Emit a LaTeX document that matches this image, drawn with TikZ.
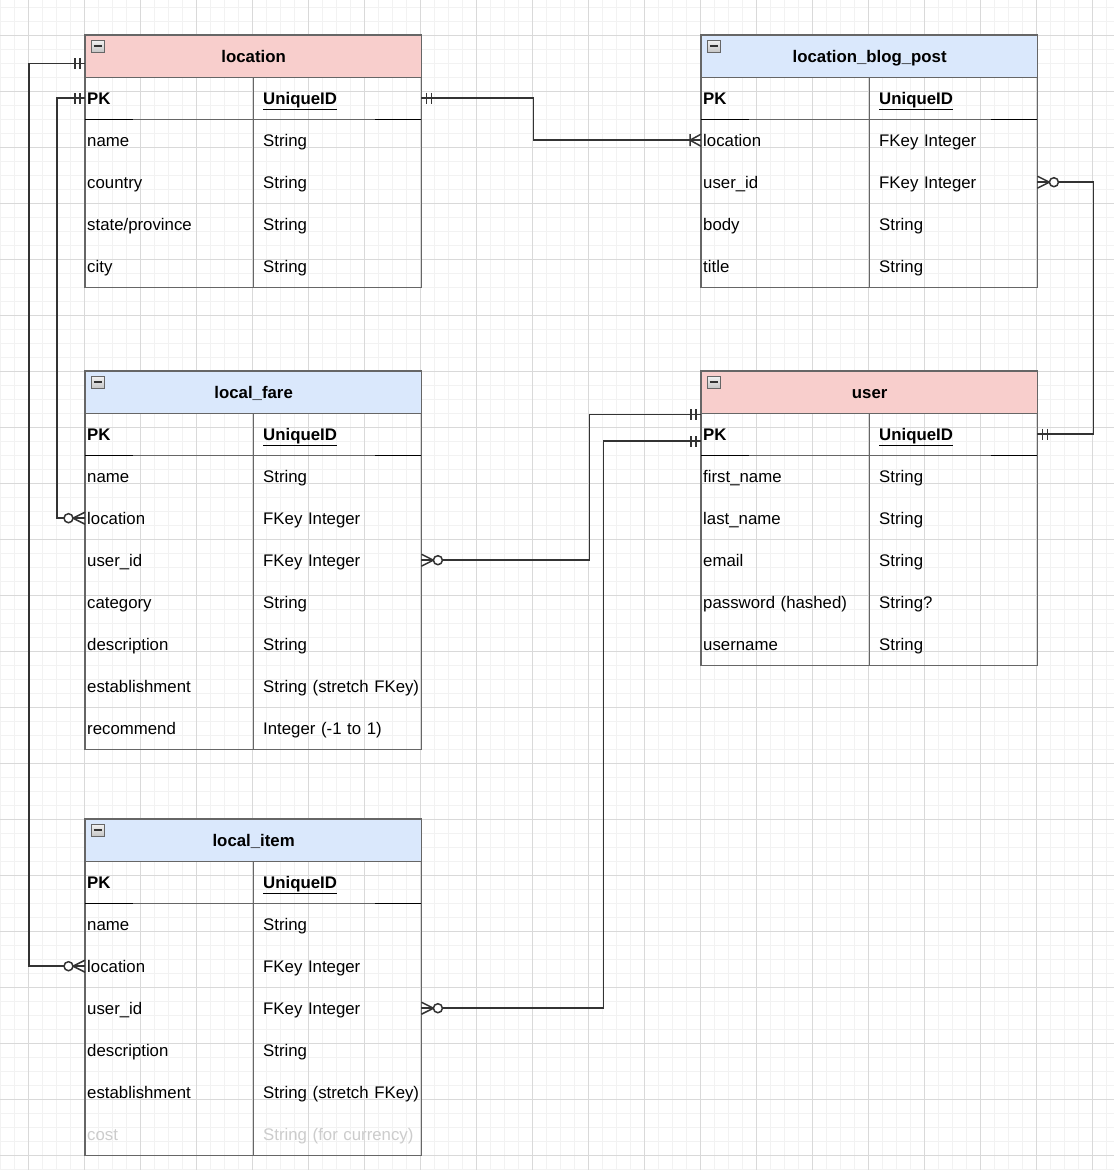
\documentclass[tikz,border=0pt]{standalone}
\usepackage{fontspec}
\setmainfont{Liberation Sans}
\usetikzlibrary{positioning}

\definecolor{erpink}{HTML}{F8CECC}
\definecolor{erblue}{HTML}{DAE8FC}
\definecolor{erborder}{HTML}{666666}
\definecolor{erdark}{HTML}{333333}
\definecolor{gridminor}{HTML}{F2F2F2}
\definecolor{gridmajor}{HTML}{D9D9D9}

\tikzset{
  every node/.style = {font=\fontsize{16.8}{20}\selectfont},
  erhead/.style = {anchor=north west, draw=erborder, line width=1.3pt, minimum width=336pt,
    minimum height=42pt, inner sep=0pt, text height=14pt, text depth=1.5pt,
    font=\fontsize{16.8}{20}\selectfont\bfseries},
  erkey/.style = {anchor=north west, minimum height=42pt, text width=164pt, inner xsep=2pt,
    inner ysep=0pt, text height=14pt, text depth=1.5pt, align=left},
  ertype/.style = {anchor=north west, minimum height=42pt, text width=158pt, inner xsep=0pt,
    inner ysep=0pt, text height=14pt, text depth=1.5pt, align=left},
  erframe/.style = {draw=erborder, line width=1.3pt},
  erlink/.style = {draw=erdark, line width=1.5pt},
  erone/.pic = {\draw[erlink, line width=1.7pt] (5,-5.5) -- (5,5.5) (10,-5.5) -- (10,5.5);},
  erzeromany/.pic = {\draw[erlink] (0,-6) -- (12,0) -- (0,6);
    \draw[erlink, fill=white] (16.5,0) circle[radius=4.5pt];},
  eronemany/.pic = {\draw[erlink] (0,-6) -- (11,0) -- (0,6) (11,-6) -- (11,6);}
}

% table: name, x, y, title, header fill, rows
\newcommand{\ertable}[6]{%
  \node[erhead, fill=#5] (#1-h) at (#2,#3) {#4};
  \draw[draw=erborder, line width=0.8pt, top color=gray!10, bottom color=gray!45]
    ([shift={(6pt,-5pt)}]#1-h.north west) rectangle ++(13,12);
  \draw[line width=1.8pt, draw=erdark] ([shift={(8.5pt,-11pt)}]#1-h.north west) -- ++(8,0);
  \foreach [count=\i] \f/\t in {#6} {
    \node[erkey] (#1-\i) at (#2,#3+42*\i) {\f};
    \node[ertype] (#1-\i-t) at (#2+178,#3+42*\i) {\t};
    \xdef\ernrows{\i}
  }
  \draw[erframe] (#1-h.north west) rectangle (#1-\ernrows-t.south east);
  \draw[erframe] (#1-1.north east) -- (#1-\ernrows.south east);
  \draw[erframe] (#1-1.south west) -- (#1-1-t.south east);
  \draw[line width=1.8pt] (#1-1.south west) -- ++(48,0);
  \draw[line width=1.8pt] (#1-1-t.south east) -- ++(-46,0);
}

\begin{document}
\begin{tikzpicture}[x=1pt, y=-1pt]
  \useasboundingbox (0,0) rectangle (1114,1170);
  \fill[white] (0,0) rectangle (1114,1170);
  % grid
  \foreach \gx in {0,14,...,1112} \draw[gridminor, line width=0.8pt] (\gx,0) -- (\gx,1170);
  \foreach \gy in {7,21,...,1169} \draw[gridminor, line width=0.8pt] (0,\gy) -- (1114,\gy);
  \foreach \gx in {28,84,...,1112} \draw[gridmajor, line width=0.9pt] (\gx,0) -- (\gx,1170);
  \foreach \gy in {35,91,...,1169} \draw[gridmajor, line width=0.9pt] (0,\gy) -- (1114,\gy);

  % tables
  \ertable{loc}{85}{35}{location}{erpink}{{\textbf{PK}}/{\underline{\textbf{UniqueID}}},
    name/String, country/String, {state/province}/String, city/String}
  \ertable{blog}{701}{35}{location\_blog\_post}{erblue}{{\textbf{PK}}/{\underline{\textbf{UniqueID}}},
    location/FKey Integer, user\_id/FKey Integer, body/String, title/String}
  \ertable{fare}{85}{371}{local\_fare}{erblue}{{\textbf{PK}}/{\underline{\textbf{UniqueID}}},
    name/String, location/FKey Integer, user\_id/FKey Integer, category/String,
    description/String, establishment/String (stretch FKey), recommend/Integer (-1 to 1)}
  \ertable{user}{701}{371}{user}{erpink}{{\textbf{PK}}/{\underline{\textbf{UniqueID}}},
    first\_name/String, last\_name/String, email/String, password (hashed)/String?,
    username/String}
  \ertable{item}{85}{819}{local\_item}{erblue}{{\textbf{PK}}/{\underline{\textbf{UniqueID}}},
    name/String, location/FKey Integer, user\_id/FKey Integer, description/String,
    establishment/String (stretch FKey),
    {\textcolor{gray!40}{cost}}/{\textcolor{gray!40}{String (for currency)}}}

  % relations
  \draw[erlink] ([yshift=-7pt]loc-h.west) -- ++(-56,0) |- (item-3.west);
  \draw[erlink] (loc-1.west) -- ++(-28,0) |- (fare-3.west);
  \draw[erlink] (loc-1-t.east) -- ++(112,0) |- (blog-2.west);
  \draw[erlink] (blog-3-t.east) -- ++(56,0) |- (user-1-t.east);
  \draw[erlink] (fare-4-t.east) -- ++(168,0) |- (user-h.south west);
  \draw[erlink] (item-4-t.east) -- ++(182,0) |- ([yshift=-7pt]user-1.west);

  \pic[rotate=180] at ([yshift=-7pt]loc-h.west) {erone};
  \pic[rotate=180] at (item-3.west) {erzeromany};
  \pic[rotate=180] at (loc-1.west) {erone};
  \pic[rotate=180] at (fare-3.west) {erzeromany};
  \pic at (loc-1-t.east) {erone};
  \pic[rotate=180] at (blog-2.west) {eronemany};
  \pic at (blog-3-t.east) {erzeromany};
  \pic at (user-1-t.east) {erone};
  \pic at (fare-4-t.east) {erzeromany};
  \pic[rotate=180] at (user-h.south west) {erone};
  \pic at (item-4-t.east) {erzeromany};
  \pic[rotate=180] at ([yshift=-7pt]user-1.west) {erone};
\end{tikzpicture}
\end{document}
